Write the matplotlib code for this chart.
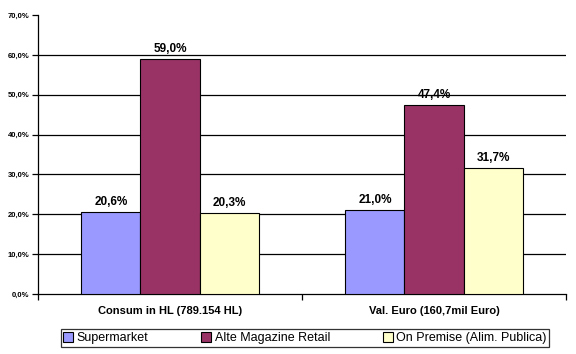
import matplotlib
matplotlib.use("Agg")
import matplotlib.pyplot as plt
import numpy as np

categories = ["Consum in HL (789.154 HL)", "Val. Euro (160,7mil Euro)"]
series = ["Supermarket", "Alte Magazine Retail", "On Premise (Alim. Publica)"]
values = {
    "Supermarket": [20.6, 21.0],
    "Alte Magazine Retail": [59.0, 47.4],
    "On Premise (Alim. Publica)": [20.3, 31.7],
}
colors = ["#9999FF", "#993366", "#FFFFCC"]
yticks = [0, 10, 20, 30, 40, 50, 60, 70]

plt.rcParams['font.family'] = ['Liberation Sans', 'DejaVu Sans']
fig = plt.figure(figsize=(5.76, 3.54), dpi=100)
ax = fig.add_axes([38/576, 1-294/354, 528/576, 279/354])

x = np.arange(len(categories))
w = 0.2235
for i, s in enumerate(series):
    pos = x + (i - 1) * w
    bars = ax.bar(pos, values[s], width=w, color=colors[i], edgecolor="black",
                  linewidth=0.8, label=s, zorder=3)
    for b, v in zip(bars, values[s]):
        ax.text(b.get_x() + b.get_width()/2, v + 1.0, f"{v:.1f}%".replace(".", ","),
                ha="center", va="bottom", fontsize=8.5, fontweight="bold", zorder=4)

ax.set_xlim(-0.5, 1.5)
ax.set_ylim(0, 70)
ax.set_yticks(yticks)
ax.set_yticklabels([f"{t:.1f}%".replace(".", ",") for t in yticks], fontsize=5.5, fontweight="bold")
for t in yticks[1:-1]:
    ax.axhline(t, color="black", linewidth=0.9, zorder=1)
ax.spines["top"].set_visible(False)
ax.spines["right"].set_visible(False)
ax.spines["left"].set_linewidth(0.9)
ax.spines["bottom"].set_linewidth(0.9)
ax.tick_params(axis="y", length=4, width=0.9, pad=2)
ax.set_xticks([-0.5, 0.5, 1.5], minor=False)
ax.set_xticklabels(["", "", ""])
ax.tick_params(axis="x", length=4, width=0.9, direction="out")
for xi, c in zip(x, categories):
    ax.text(xi, -3.0, c, ha="center", va="top", fontsize=8, fontweight="bold",
            transform=ax.transData)

leg = fig.legend(loc="center", bbox_to_anchor=(305/576, 1-338/354), ncol=3,
                 fontsize=9, frameon=True, fancybox=False, edgecolor="black",
                 handlelength=0.8, handleheight=0.8, handletextpad=0.3,
                 columnspacing=4.2, borderpad=0.2)
leg.get_frame().set_linewidth(0.9)

fig.savefig("out.png", dpi=100)
